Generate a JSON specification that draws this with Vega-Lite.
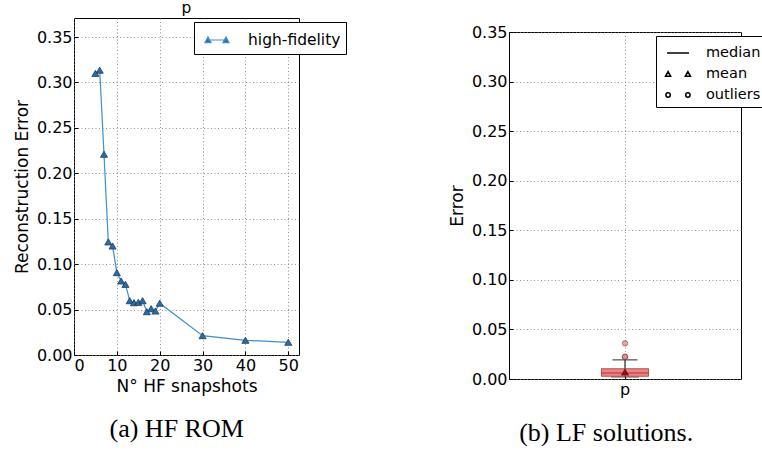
{
  "$schema": "https://vega.github.io/schema/vega-lite/v6.json",
  "padding": {"left": 12, "top": 0, "right": 0, "bottom": 0},
  "background": "white",
  "spacing": 100,
  "resolve": {"legend": {"color": "independent", "shape": "independent"}, "scale": {"color": "independent", "shape": "independent"}},
  "datasets": {
    "hf": [
      {"snapshots": 5, "error": 0.310, "series": "high-fidelity"},
      {"snapshots": 6, "error": 0.3135, "series": "high-fidelity"},
      {"snapshots": 7, "error": 0.221, "series": "high-fidelity"},
      {"snapshots": 8, "error": 0.1245, "series": "high-fidelity"},
      {"snapshots": 9, "error": 0.120, "series": "high-fidelity"},
      {"snapshots": 10, "error": 0.0907, "series": "high-fidelity"},
      {"snapshots": 11, "error": 0.0815, "series": "high-fidelity"},
      {"snapshots": 12, "error": 0.0778, "series": "high-fidelity"},
      {"snapshots": 13, "error": 0.0598, "series": "high-fidelity"},
      {"snapshots": 14, "error": 0.0576, "series": "high-fidelity"},
      {"snapshots": 15, "error": 0.058, "series": "high-fidelity"},
      {"snapshots": 16, "error": 0.0598, "series": "high-fidelity"},
      {"snapshots": 17, "error": 0.0477, "series": "high-fidelity"},
      {"snapshots": 18, "error": 0.051, "series": "high-fidelity"},
      {"snapshots": 19, "error": 0.0484, "series": "high-fidelity"},
      {"snapshots": 20, "error": 0.057, "series": "high-fidelity"},
      {"snapshots": 30, "error": 0.0213, "series": "high-fidelity"},
      {"snapshots": 40, "error": 0.0162, "series": "high-fidelity"},
      {"snapshots": 50, "error": 0.014, "series": "high-fidelity"}
    ],
    "box": [
      {"group": "p", "q1": 0.0027, "q3": 0.0104, "lo": 0.002, "hi": 0.0193}
    ],
    "lf": [
      {"group": "p", "kind": "median", "value": 0.006},
      {"group": "p", "kind": "mean", "value": 0.007},
      {"group": "p", "kind": "outliers", "value": 0.0222},
      {"group": "p", "kind": "outliers", "value": 0.0225},
      {"group": "p", "kind": "outliers", "value": 0.036}
    ],
    "empty": []
  },
  "hconcat": [
    {
      "title": {"text": "(a) HF ROM", "orient": "bottom", "font": "Liberation Serif", "fontSize": 26, "fontWeight": "normal", "color": "black", "offset": 21, "anchor": "middle", "dx": -3},
      "vconcat": [
        {
          "width": 225,
          "height": 337,
          "title": {"text": "p", "font": "DejaVu Sans", "fontSize": 15.5, "fontWeight": "normal", "color": "black", "offset": 2, "frame": "group", "anchor": "middle"},
          "data": {"name": "hf"},
          "layer": [
            {
              "mark": {"type": "line", "strokeWidth": 1.2},
              "encoding": {
                "x": {"field": "snapshots", "type": "quantitative", "scale": {"domain": [0, 52.5], "nice": false, "zero": false}, "axis": {"values": [0, 10, 20, 30, 40, 50], "title": "N° HF snapshots", "format": "d"}},
                "y": {"field": "error", "type": "quantitative", "scale": {"domain": [0, 0.371], "nice": false}, "axis": {"values": [0, 0.05, 0.1, 0.15, 0.2, 0.25, 0.3, 0.35], "format": ".2f", "title": "Reconstruction Error"}},
                "color": {
                  "field": "series", "type": "nominal",
                  "scale": {"range": ["#3f8fca"]},
                  "legend": {
                    "orient": "none", "legendX": 120, "legendY": 4, "title": null,
                    "strokeColor": "black", "fillColor": "white", "padding": 5,
                    "symbolOffset": 5, "labelOffset": 18, "symbolSize": 576,
                    "labelFont": "DejaVu Sans", "labelFontSize": 15.5, "labelColor": "black",
                    "encode": {"symbols": {"update": {
                      "shape": {"value": "M-1,0.22L-0.75,-0.25L-0.5,0.22Z M0.5,0.22L0.75,-0.25L1,0.22Z M-0.75,0H0.75"},
                      "fill": {"value": "#2b6ea6"}, "stroke": {"value": "#3f8fca"}, "strokeWidth": {"value": 1.2}, "opacity": {"value": 1}
                    }}}
                  }
                }
              }
            },
            {
              "mark": {"type": "point", "shape": "triangle-up", "filled": true, "fill": "#2b6ea6", "stroke": "#1b3c5e", "strokeWidth": 0.8, "size": 50, "opacity": 1},
              "encoding": {
                "x": {"field": "snapshots", "type": "quantitative"},
                "y": {"field": "error", "type": "quantitative"}
              }
            }
          ]
        }
      ]
    },
    {
      "title": {"text": "(b) LF solutions.", "orient": "bottom", "font": "Liberation Serif", "fontSize": 26, "fontWeight": "normal", "color": "black", "offset": 22, "anchor": "middle", "dx": -1},
      "spacing": 0,
      "vconcat": [
        {
          "width": 232,
          "height": 5,
          "data": {"name": "empty"},
          "mark": {"type": "point", "opacity": 0},
          "encoding": {},
          "view": {"stroke": null}
        },
        {
          "width": 232,
          "height": 347,
          "layer": [
            {
              "data": {"name": "box"},
              "mark": {"type": "rule", "color": "black", "strokeWidth": 1},
              "encoding": {
                "x": {"field": "group", "type": "nominal", "scale": {"domain": ["p"], "paddingInner": 0, "paddingOuter": 0}, "axis": {"title": null, "labelAngle": 0, "bandPosition": 0.5}},
                "y": {"field": "lo", "type": "quantitative", "scale": {"domain": [0, 0.35], "nice": false}, "axis": {"values": [0, 0.05, 0.1, 0.15, 0.2, 0.25, 0.3, 0.35], "format": ".2f", "title": "Error"}},
                "y2": {"field": "hi"}
              }
            },
            {
              "data": {"name": "box"},
              "mark": {"type": "tick", "color": "black", "size": 25, "thickness": 1.2, "orient": "horizontal"},
              "encoding": {
                "x": {"field": "group", "type": "nominal"},
                "y": {"field": "hi", "type": "quantitative"}
              }
            },
            {
              "data": {"name": "box"},
              "mark": {"type": "tick", "color": "#444444", "size": 28, "thickness": 1.2, "orient": "horizontal"},
              "encoding": {
                "x": {"field": "group", "type": "nominal"},
                "y": {"field": "lo", "type": "quantitative"}
              }
            },
            {
              "data": {"name": "box"},
              "mark": {"type": "bar", "size": 47, "fill": "#dc6a6a", "fillOpacity": 0.8, "stroke": "#a83a3a", "strokeWidth": 0.8},
              "encoding": {
                "x": {"field": "group", "type": "nominal"},
                "y": {"field": "q1", "type": "quantitative"},
                "y2": {"field": "q3"}
              }
            },
            {
              "data": {"name": "lf"},
              "transform": [{"filter": "datum.kind === 'median'"}],
              "mark": {"type": "tick", "color": "#e3202a", "size": 47, "thickness": 1.6, "orient": "horizontal"},
              "encoding": {
                "x": {"field": "group", "type": "nominal"},
                "y": {"field": "value", "type": "quantitative"}
              }
            },
            {
              "data": {"name": "lf"},
              "transform": [{"filter": "datum.kind === 'mean'"}],
              "mark": {"type": "point", "shape": "triangle-up", "filled": true, "fill": "#8a1414", "stroke": "#5a0a0a", "strokeWidth": 0.6, "size": 50, "opacity": 1},
              "encoding": {
                "x": {"field": "group", "type": "nominal"},
                "y": {"field": "value", "type": "quantitative"}
              }
            },
            {
              "data": {"name": "lf"},
              "transform": [{"filter": "datum.kind === 'outliers'"}],
              "mark": {"type": "point", "shape": "circle", "filled": true, "fill": "#e08888", "stroke": "#8a2a2a", "strokeWidth": 0.8, "size": 30, "opacity": 0.75},
              "encoding": {
                "x": {"field": "group", "type": "nominal"},
                "y": {"field": "value", "type": "quantitative"}
              }
            },
            {
              "data": {"name": "lf"},
              "mark": {"type": "point", "opacity": 0, "color": "black", "filled": false},
              "encoding": {
                "x": {"field": "group", "type": "nominal"},
                "y": {"field": "value", "type": "quantitative"},
                "shape": {
                  "field": "kind", "type": "nominal",
                  "scale": {"domain": ["median", "mean", "outliers"], "range": [
                    "M-1,0H1",
                    "M-1.13,0.2L-0.9,-0.22L-0.67,0.2Z M0.67,0.2L0.9,-0.22L1.13,0.2Z",
                    "M-0.7,0A0.2,0.2 0 1,1 -1.1,0A0.2,0.2 0 1,1 -0.7,0Z M1.1,0A0.2,0.2 0 1,1 0.7,0A0.2,0.2 0 1,1 1.1,0Z"
                  ]},
                  "legend": {
                    "orient": "none", "legendX": 147, "legendY": 18, "title": null,
                    "strokeColor": "black", "fillColor": "white", "padding": 5,
                    "symbolOffset": 5, "labelOffset": 16, "symbolSize": 484, "rowPadding": 2,
                    "symbolStrokeColor": "black", "symbolFillColor": "white", "symbolOpacity": 1,
                    "labelFont": "DejaVu Sans", "labelFontSize": 14.5, "labelColor": "black",
                    "encode": {"symbols": {"update": {
                      "fill": {"value": "white"}, "stroke": {"value": "black"},
                      "strokeWidth": {"signal": "datum.value === 'median' ? 2 : 0.7"},
                      "opacity": {"value": 1}
                    }}}
                  }
                }
              }
            }
          ]
        }
      ]
    }
  ],
  "config": {
    "view": {"stroke": "black", "strokeWidth": 1},
    "axis": {
      "labelFont": "DejaVu Sans", "labelFontSize": 16, "labelColor": "black",
      "titleFont": "DejaVu Sans", "titleFontSize": 17, "titleFontWeight": "normal", "titleColor": "black",
      "domain": false, "ticks": true, "tickColor": "black", "tickSize": -4,
      "labelPadding": 6, "titlePadding": 5,
      "grid": true, "gridColor": "#777777", "gridDash": [1, 2.5], "gridWidth": 0.8
    },
    "legend": {"cornerRadius": 0}
  }
}
